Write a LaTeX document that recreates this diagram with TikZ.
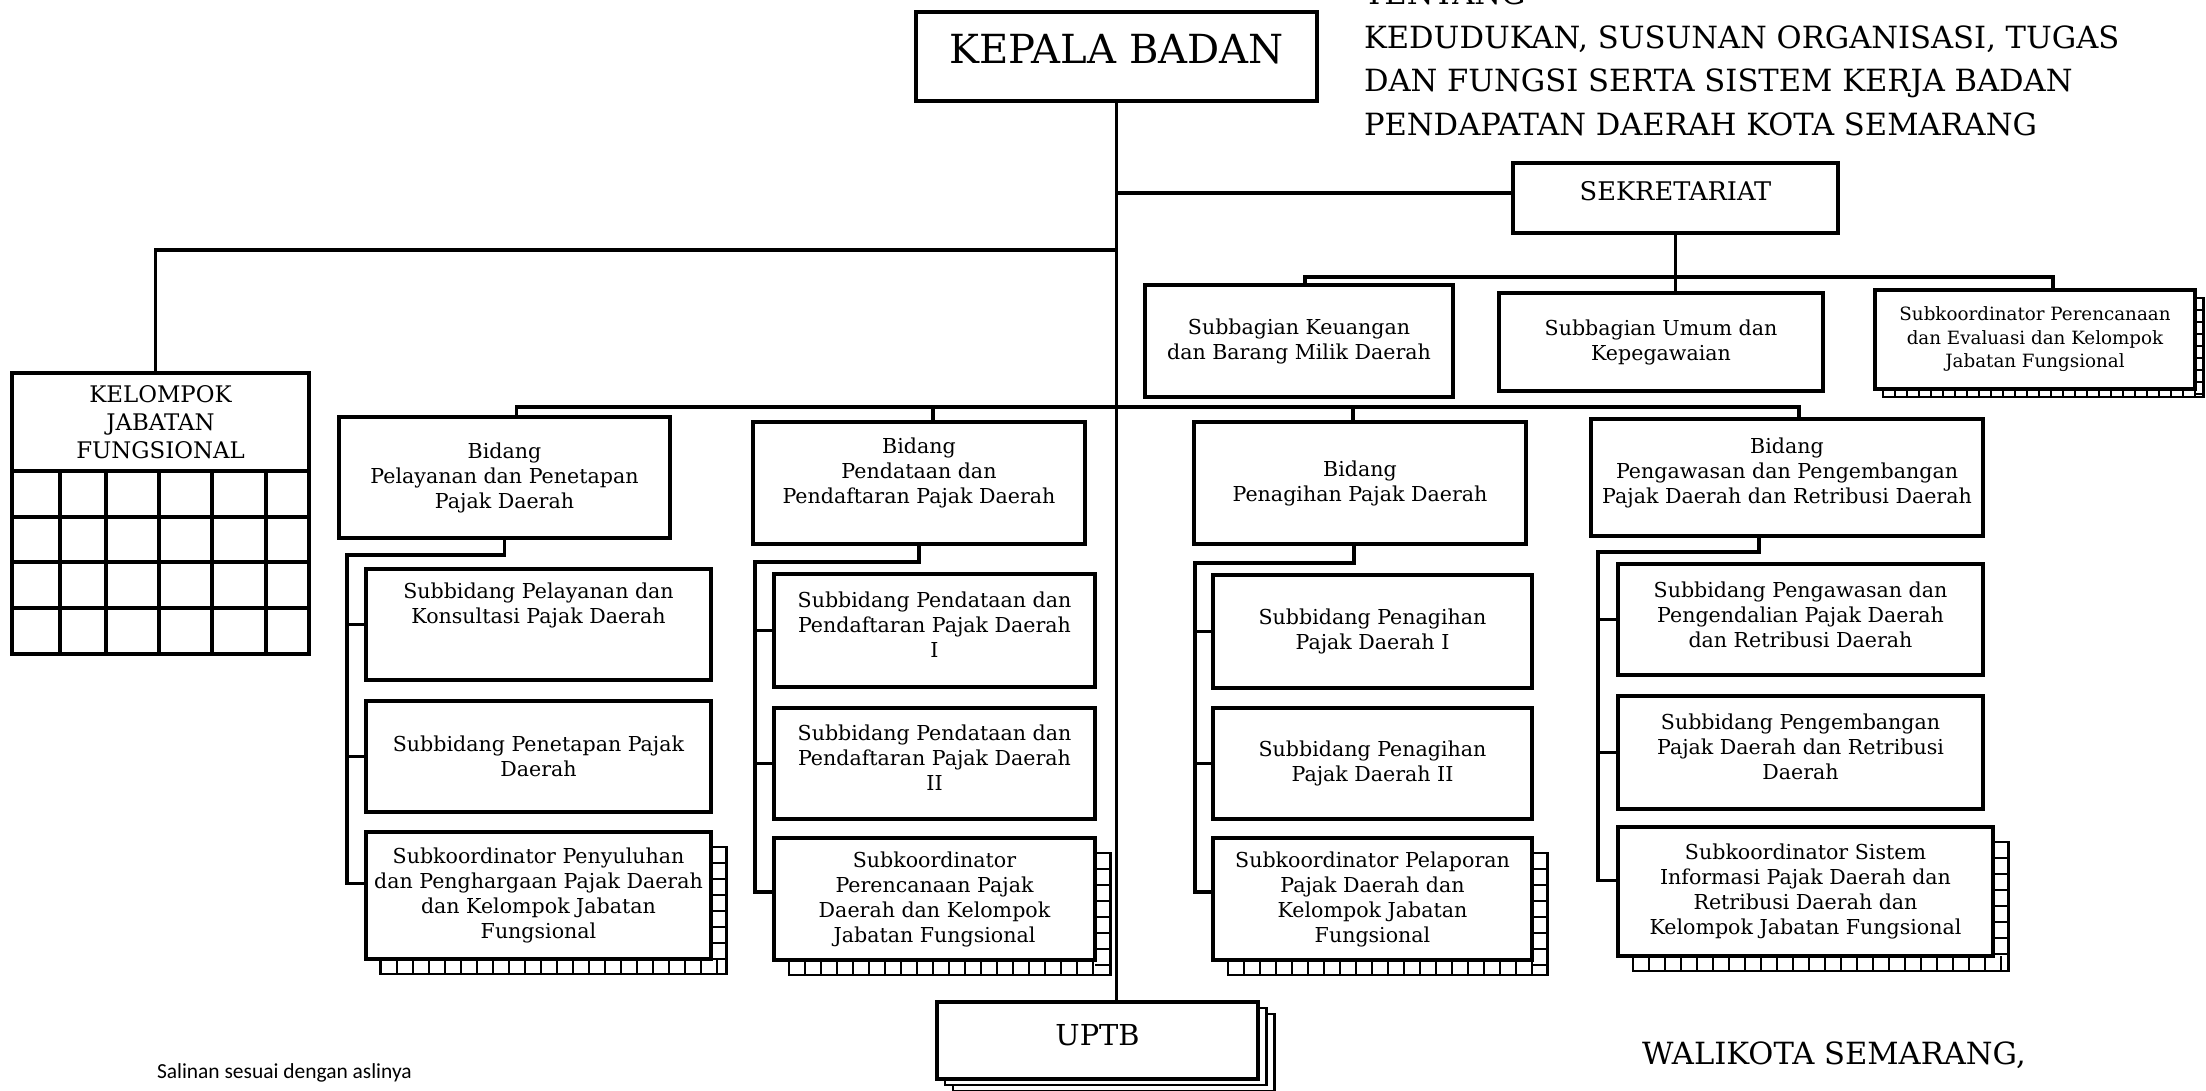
\documentclass[tikz,border=0pt]{standalone}
\usepackage{fontspec}
\setmainfont{DejaVu Serif}
\newfontfamily\carlito{Carlito}
\usetikzlibrary{backgrounds}

\tikzset{
  orgbox/.style={draw, line width=1pt, fill=white, inner sep=0pt, outer sep=0pt,
    align=center, font=\fontsize{5.85}{7.1}\selectfont},
  link/.style={line width=0.95pt},
  rung/.style={line width=0.5pt},
  plain text/.style={inner sep=0pt, outer sep=0pt},
}

% ladder shadow behind a box: node, offset, rung step, rungs below, rungs right
\newcommand{\shadowladder}[5]{%
  \draw[rung, line width=0.8pt, fill=white] ([shift={(#2,#2)}]#1.north west) rectangle ([shift={(#2,#2)}]#1.south east);
  \foreach \i in {1,...,#4}
    \draw[rung] ([shift={(#2+\i*#3,0)}]#1.south west) -- ++(0,#2);
  \foreach \j in {1,...,#5}
    \draw[rung] ([shift={(0,#2+\j*#3)}]#1.north east) -- ++(#2,0);
}

\begin{document}
\begin{tikzpicture}[x=0.01cm, y=-0.01cm]
	\useasboundingbox (0,0) rectangle (2206,1090);

	% title text
	\node[plain text, anchor=north west, align=left, font=\fontsize{8.7}{12.4}\selectfont] (judul) at (1364,-18)
	  {TENTANG\\KEDUDUKAN, SUSUNAN ORGANISASI, TUGAS\\DAN FUNGSI SERTA SISTEM KERJA BADAN\\PENDAPATAN DAERAH KOTA SEMARANG};

	% head and secretariat
	\node[orgbox, minimum width=4.01cm, minimum height=0.89cm, font=\fontsize{11.4}{13}\selectfont, text depth=4.3pt] (kepala) at (1116.5,56.5) {KEPALA BADAN};
	\node[orgbox, minimum width=3.25cm, minimum height=0.70cm, font=\fontsize{7.3}{9}\selectfont, text depth=4pt] (sekre) at (1675.5,198) {SEKRETARIAT};
	\node[orgbox, minimum width=3.08cm, minimum height=1.12cm] (keu) at (1299,341) {Subbagian Keuangan\\dan Barang Milik Daerah};
	\node[orgbox, minimum width=3.24cm, minimum height=0.98cm] (umum) at (1661,342) {Subbagian Umum dan\\Kepegawaian};
	\node[orgbox, minimum width=3.20cm, minimum height=0.99cm, font=\fontsize{5.2}{6.7}\selectfont] (pe) at (2035,339.5) {Subkoordinator Perencanaan\\dan Evaluasi dan Kelompok\\Jabatan Fungsional};

	% kelompok jabatan fungsional
	\node[orgbox, minimum width=2.97cm, minimum height=0.98cm, font=\fontsize{6.5}{8}\selectfont] (kjf) at (160.5,422) {KELOMPOK\\JABATAN\\FUNGSIONAL};
	\draw[line width=1pt] (kjf.south west) rectangle ++(297,183);
	\foreach \gy in {517,562,608}
	  \draw[link] (12,\gy) -- (309,\gy);
	\foreach \gx in {60,106,159,212,266}
	  \draw[link] (\gx,471) -- (\gx,654);

	% bidang
	\node[orgbox, minimum width=3.31cm, minimum height=1.21cm] (bid1) at (504.5,477.5) {Bidang\\Pelayanan dan Penetapan\\Pajak Daerah};
	\node[orgbox, minimum width=3.32cm, minimum height=1.22cm, text depth=7pt] (bid2) at (919,483) {Bidang\\Pendataan dan\\Pendaftaran Pajak Daerah};
	\node[orgbox, minimum width=3.32cm, minimum height=1.22cm] (bid3) at (1360,483) {Bidang\\Penagihan Pajak Daerah};
	\node[orgbox, minimum width=3.92cm, minimum height=1.17cm, text depth=4.15pt] (bid4) at (1787,477.5) {Bidang\\Pengawasan dan Pengembangan\\Pajak Daerah dan Retribusi Daerah};

	% subbidang
	\node[orgbox, minimum width=3.45cm, minimum height=1.11cm, text depth=12.1pt] (s11) at (538.5,624.5) {Subbidang Pelayanan dan\\Konsultasi Pajak Daerah};
	\node[orgbox, minimum width=3.45cm, minimum height=1.11cm] (s12) at (538.5,756.5) {Subbidang Penetapan Pajak\\Daerah};
	\node[orgbox, minimum width=3.45cm, minimum height=1.27cm] (s13) at (538.5,895.5) {Subkoordinator Penyuluhan\\dan Penghargaan Pajak Daerah\\dan Kelompok Jabatan\\Fungsional};

	\node[orgbox, minimum width=3.21cm, minimum height=1.13cm, text depth=3.1pt] (s21) at (934.5,630.5) {Subbidang Pendataan dan\\Pendaftaran Pajak Daerah\\I};
	\node[orgbox, minimum width=3.21cm, minimum height=1.11cm, text depth=3.1pt] (s22) at (934.5,763.5) {Subbidang Pendataan dan\\Pendaftaran Pajak Daerah\\II};
	\node[orgbox, minimum width=3.21cm, minimum height=1.22cm] (s23) at (934.5,899) {Subkoordinator\\Perencanaan Pajak\\Daerah dan Kelompok\\Jabatan Fungsional};

	\node[orgbox, minimum width=3.19cm, minimum height=1.13cm] (s31) at (1372.5,631.5) {Subbidang Penagihan\\Pajak Daerah I};
	\node[orgbox, minimum width=3.19cm, minimum height=1.11cm] (s32) at (1372.5,763.5) {Subbidang Penagihan\\Pajak Daerah II};
	\node[orgbox, minimum width=3.19cm, minimum height=1.22cm] (s33) at (1372.5,899) {Subkoordinator Pelaporan\\Pajak Daerah dan\\Kelompok Jabatan\\Fungsional};

	\node[orgbox, minimum width=3.65cm, minimum height=1.11cm, text depth=2.6pt] (s41) at (1800.5,619.5) {Subbidang Pengawasan dan\\Pengendalian Pajak Daerah\\dan Retribusi Daerah};
	\node[orgbox, minimum width=3.65cm, minimum height=1.13cm, text depth=3.1pt] (s42) at (1800.5,752.5) {Subbidang Pengembangan\\Pajak Daerah dan Retribusi\\Daerah};
	\node[orgbox, minimum width=3.75cm, minimum height=1.29cm] (s43) at (1805.5,891.5) {Subkoordinator Sistem\\Informasi Pajak Daerah dan\\Retribusi Daerah dan\\Kelompok Jabatan Fungsional};

	% uptb
	\node[orgbox, minimum width=3.21cm, minimum height=0.77cm, font=\fontsize{8.2}{10}\selectfont, text depth=3.1pt] (uptb) at (1097.5,1040.5) {UPTB};

	% shadows behind the boxes
	\begin{scope}[on background layer]
	  \shadowladder{s13}{15}{16}{21}{7}
	  \shadowladder{s23}{15}{16}{19}{7}
	  \shadowladder{s33}{15}{16}{19}{7}
	  \shadowladder{s43}{15}{16}{23}{7}
	  \shadowladder{pe}{8}{12}{26}{8}
	  \draw[line width=0.8pt, fill=white] ([shift={(16,12)}]uptb.north west) rectangle ([shift={(16,12)}]uptb.south east);
	  \draw[line width=0.8pt, fill=white] ([shift={(8,6)}]uptb.north west) rectangle ([shift={(8,6)}]uptb.south east);
	\end{scope}

	% bus points
	\coordinate (jfbus) at (kepala.south |- 0,250);
	\coordinate (sbus) at (sekre.south |- 0,277);
	\coordinate (bbus) at (kepala.south |- 0,407);
	\coordinate (c1) at (347,555);
	\coordinate (c2) at (755,562);
	\coordinate (c3) at (1195,563);
	\coordinate (c4) at (1598,552);

	% trunk and top branches
	\draw[link] (kepala.south) -- (kepala.south |- uptb.north);
	\draw[link] ([shift={(0,-5)}]sekre.west) -- ([shift={(0,-5)}]sekre.west -| kepala.south);
	\draw[link] ([shift={(-5,0)}]kjf.north) |- (jfbus);
	\draw[link] (sekre.south) -- (sekre.south |- umum.north);
	\draw[link] ([shift={(6,0)}]keu.north) |- (sbus) -| ([shift={(18,0)}]pe.north);

	% bidang bus
	\draw[link] ([shift={(12,0)}]bid1.north) |- (bbus) -| ([shift={(12,0)}]bid4.north);
	\draw[link] ([shift={(14,0)}]bid2.north) -- ([shift={(14,0)}]bid2.north |- bbus);
	\draw[link] ([shift={(-7,0)}]bid3.north) -- ([shift={(-7,0)}]bid3.north |- bbus);

	% columns
	\draw[link] (bid1.south) |- (c1) |- ([shift={(0,-12)}]s13.west);
	\draw[link] (c1 |- s11.west) -- (s11.west);
	\draw[link] (c1 |- s12.west) -- (s12.west);

	\draw[link] (bid2.south) |- (c2) |- ([shift={(0,-7)}]s23.west);
	\draw[link] (c2 |- s21.west) -- (s21.west);
	\draw[link] (c2 |- s22.west) -- (s22.west);

	\draw[link] ([shift={(-6,0)}]bid3.south) |- (c3) |- ([shift={(0,-7)}]s33.west);
	\draw[link] (c3 |- s31.west) -- (s31.west);
	\draw[link] (c3 |- s32.west) -- (s32.west);

	\draw[link] ([shift={(-28,0)}]bid4.south) |- (c4) |- ([shift={(0,-11)}]s43.west);
	\draw[link] (c4 |- s41.west) -- (s41.west);
	\draw[link] (c4 |- s42.west) -- (s42.west);

	% footer
	\node[plain text, anchor=west, font=\carlito\fontsize{6.1}{7}\selectfont] (salinan) at (157,1073) {Salinan sesuai dengan aslinya};
	\node[plain text, anchor=west, font=\fontsize{8.7}{10}\selectfont] (walikota) at (1642,1055) {WALIKOTA SEMARANG,};
\end{tikzpicture}
\end{document}
